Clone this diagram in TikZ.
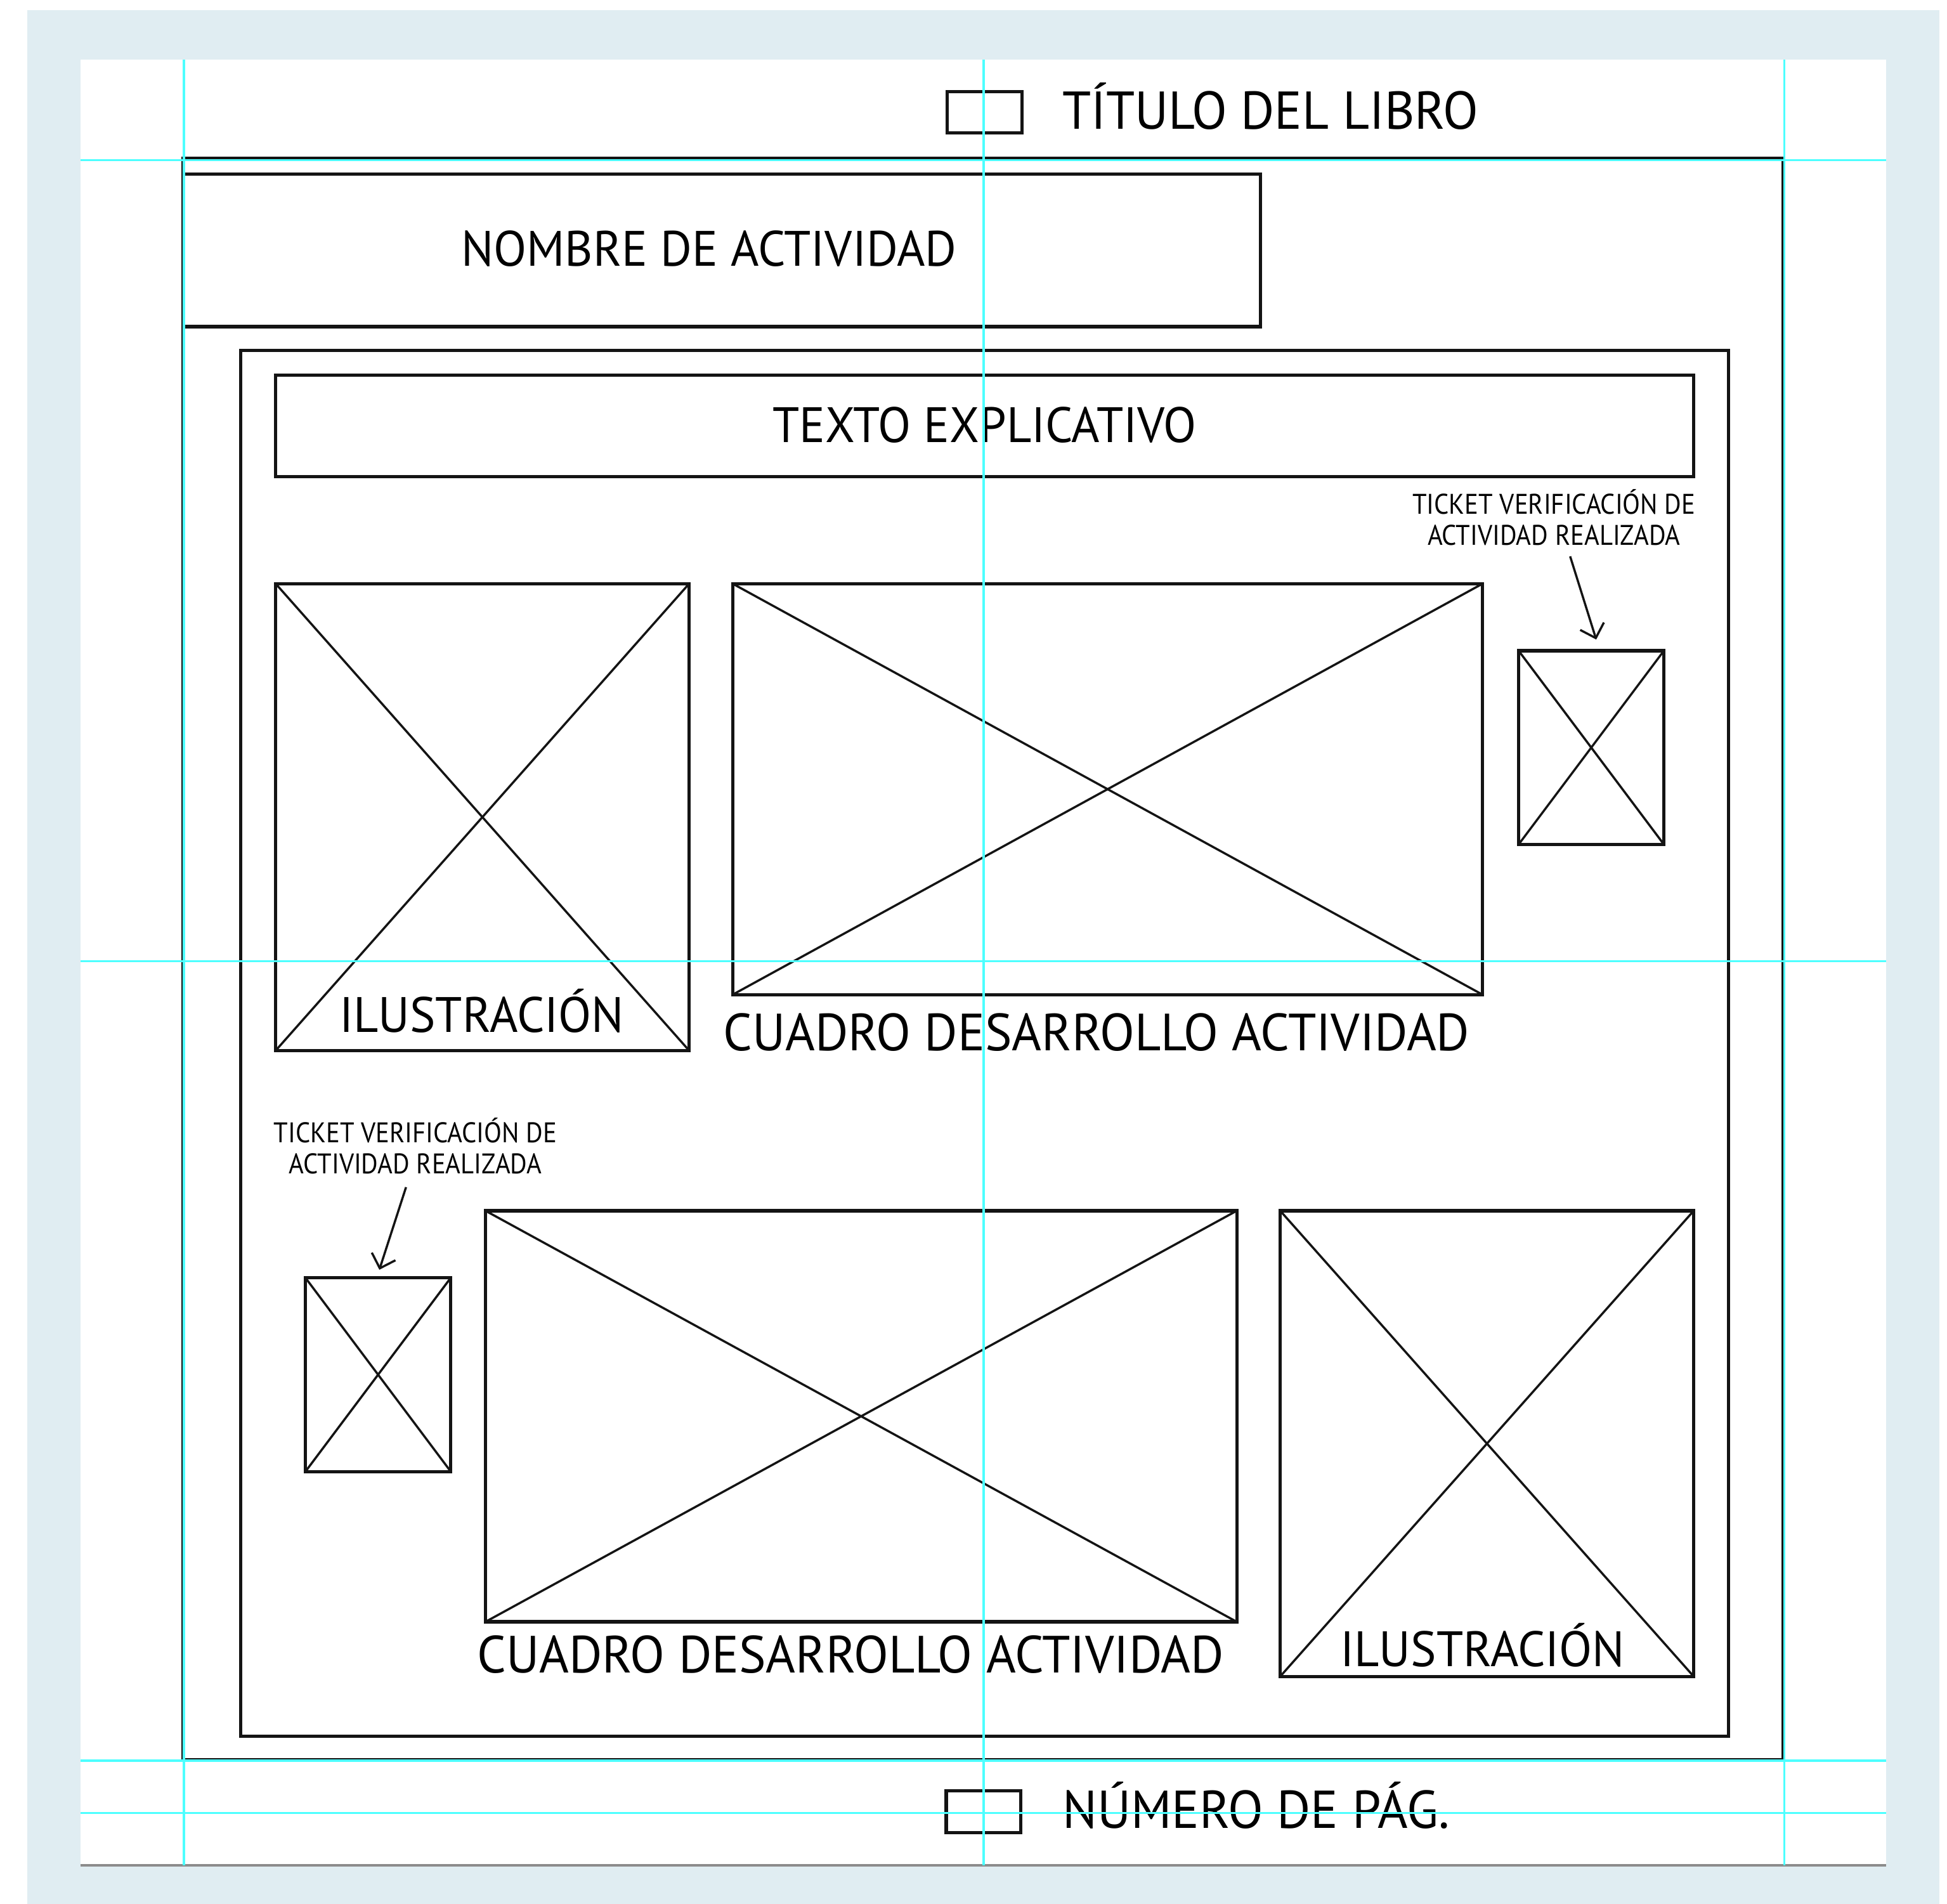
\documentclass[tikz,border=0pt]{standalone}
\usepackage{fontspec}
\setmainfont{PT Sans}[FakeStretch=0.97]
\newfontfamily\tickfont{PT Sans}[FakeStretch=0.91]
\usetikzlibrary{arrows.meta}
\definecolor{pageBlue}{RGB}{224,237,242}
\definecolor{guideCyan}{RGB}{77,255,255}
\definecolor{inkBlack}{RGB}{20,20,20}
\definecolor{edgeGray}{RGB}{140,140,140}
\tikzset{
  caja/.style={rectangle,draw=inkBlack,line width=0.75pt,inner sep=0pt,outer sep=0pt},
  cruz/.style={draw=inkBlack,line width=0.5pt},
  guia/.style={draw=guideCyan,line width=0.55pt},
  rotulo/.style={inner sep=0pt,anchor=base,font=\fontsize{11.4}{13}\selectfont},
  ticket/.style={inner sep=0pt,align=center,font=\tickfont\fontsize{6.5}{7.1}\selectfont},
  flecha/.style={draw=inkBlack,line width=0.5pt,-{Straight Barb[length=1mm,width=2mm]}}
}

\begin{document}
\begin{tikzpicture}[x=0.1mm,y=-0.1mm]
\useasboundingbox (0,0) rectangle (1568,1533);
% page
\fill[pageBlue] (22,8) rectangle (1562,1533);
\fill[white] (65,48) rectangle (1519,1502);
\draw[edgeGray,line width=0.5pt] (65,1502) -- (1519,1502);

% header and footer
\node[caja,minimum width=6mm,minimum height=3.3mm] (tituloBox) at (793,90.5) {};
\node[rotulo,anchor=base west,font=\fontsize{12.2}{14}\selectfont] (titulo) at (855,104) {TÍTULO DEL LIBRO};
\node[caja,minimum width=6mm,minimum height=3.4mm] (paginaBox) at (792,1459) {};
\node[rotulo,anchor=base west,font=\fontsize{12.2}{14}\selectfont] (pagina) at (855,1472) {NÚMERO DE PÁG.};

% frames
\node[caja,line width=0.6pt,minimum width=128.9mm,minimum height=129mm] (marco) at (791.5,772) {};
\node[caja,minimum width=86.7mm,minimum height=12.3mm] (nombre) at (581.5,201.5) {};
\node[rotulo] (nombreTxt) at (571,214) {NOMBRE DE ACTIVIDAD};
\node[caja,minimum width=119.8mm,minimum height=111.6mm] (panel) at (793,840) {};
\node[caja,minimum width=114.2mm,minimum height=8.2mm] (texto) at (793,343) {};
\node[rotulo] (textoTxt) at (793,356) {TEXTO EXPLICATIVO};

% upper row
\node[caja,minimum width=33.3mm,minimum height=37.6mm] (ilu1) at (388.5,658) {};
\draw[cruz] (ilu1.north west) -- (ilu1.south east);
\draw[cruz] (ilu1.north east) -- (ilu1.south west);
\node[rotulo] (ilu1Txt) at (388,831) {ILUSTRACIÓN};
\node[caja,minimum width=60.4mm,minimum height=33.1mm] (cuadro1) at (892,635.5) {};
\draw[cruz] (cuadro1.north west) -- (cuadro1.south east);
\draw[cruz] (cuadro1.north east) -- (cuadro1.south west);
\node[rotulo,font=\fontsize{12}{14}\selectfont] (cuadro1Txt) at (883,846) {CUADRO DESARROLLO ACTIVIDAD};
\node[caja,minimum width=11.7mm,minimum height=15.6mm] (chk1) at (1281.5,602) {};
\draw[cruz] (chk1.north west) -- (chk1.south east);
\draw[cruz] (chk1.north east) -- (chk1.south west);
\node[ticket,anchor=south] (tk1) at (1251.5,440) {TICKET VERIFICACIÓN DE\\ACTIVIDAD REALIZADA};
\draw[flecha] ([shift={(13,8)}]tk1.south) -- ([shift={(4,-9)}]chk1.north);

% lower row
\node[caja,minimum width=11.7mm,minimum height=15.6mm] (chk2) at (304.5,1107) {};
\draw[cruz] (chk2.north west) -- (chk2.south east);
\draw[cruz] (chk2.north east) -- (chk2.south west);
\node[ticket,anchor=south] (tk2) at (334.5,946) {TICKET VERIFICACIÓN DE\\ACTIVIDAD REALIZADA};
\draw[flecha] ([shift={(-7.5,10)}]tk2.south) -- ([shift={(1,-6.5)}]chk2.north);
\node[caja,minimum width=60.5mm,minimum height=33.1mm] (cuadro2) at (693.5,1140.5) {};
\draw[cruz] (cuadro2.north west) -- (cuadro2.south east);
\draw[cruz] (cuadro2.north east) -- (cuadro2.south west);
\node[rotulo,font=\fontsize{12}{14}\selectfont] (cuadro2Txt) at (685,1347) {CUADRO DESARROLLO ACTIVIDAD};
\node[caja,minimum width=33.3mm,minimum height=37.5mm] (ilu2) at (1197.5,1162.5) {};
\draw[cruz] (ilu2.north west) -- (ilu2.south east);
\draw[cruz] (ilu2.north east) -- (ilu2.south west);
\node[rotulo] (ilu2Txt) at (1194,1342) {ILUSTRACIÓN};

% guides on top
\draw[guia] (148,48) -- (148,1502);
\draw[guia] (792,48) -- (792,1502);
\draw[guia] (1437,48) -- (1437,1502);
\draw[guia] (65,129) -- (1519,129);
\draw[guia] (65,774) -- (1519,774);
\draw[guia] (65,1418) -- (1519,1418);
\draw[guia] (65,1460) -- (1519,1460);
\end{tikzpicture}
\end{document}
